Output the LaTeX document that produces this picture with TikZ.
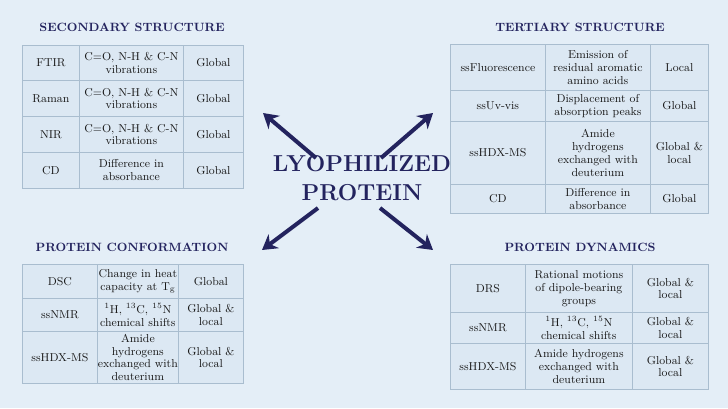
\documentclass[tikz,border=0pt]{standalone}
\usepackage{tikz}
\usetikzlibrary{arrows.meta,positioning}
\definecolor{navy}{HTML}{23235E}
\definecolor{bgblue}{HTML}{E4EEF7}
\definecolor{cellblue}{HTML}{DCE8F3}
\definecolor{rule}{HTML}{A9BDCF}
\tikzset{
  cell/.style={draw=rule,fill=cellblue,line width=0.6pt,inner sep=1pt,align=center},
  celltext/.style={align=center,font=\fontsize{8.6}{9.6}\selectfont,text=black!90},
  title/.style={font=\bfseries\fontsize{9}{11}\selectfont,text=navy},
  bigarrow/.style={-{Stealth[length=11pt,width=13pt]},line width=3pt,draw=navy}
}
% one table row: name, top y, bottom y, x0,x1,x2, three texts, x3
\newcommand{\tabrow}[9]{
  \node[cell,minimum width={(#5-#4)*0.75pt},minimum height={(#3-#2)*0.75pt},anchor=north west] (#1a) at (#4,#2) {};
  \node[cell,minimum width={(#6-#5)*0.75pt},minimum height={(#3-#2)*0.75pt},anchor=north west] (#1b) at (#5,#2) {};
  \node[cell,minimum width={(#9-#6)*0.75pt},minimum height={(#3-#2)*0.75pt},anchor=north west] (#1c) at (#6,#2) {};
  \node[celltext] at (#1a) {#7};
  \node[celltext] at (#1b) {#8};
}
\newcommand{\rowtext}[2]{\node[celltext] at (#1) {#2};}
\begin{document}
\begin{tikzpicture}[x=0.75pt,y=-0.75pt]
\useasboundingbox[fill=bgblue] (0,0) rectangle (728,408);

% secondary structure
\node[title] (secT) at (132,27) {SECONDARY STRUCTURE};
\tabrow{s1}{45}{80}{22}{79}{183}{FTIR}{C=O, N-H \& C-N\\vibrations}{243}\rowtext{s1c}{Global}
\tabrow{s2}{80}{116}{22}{79}{183}{Raman}{C=O, N-H \& C-N\\vibrations}{243}\rowtext{s2c}{Global}
\tabrow{s3}{116}{152}{22}{79}{183}{NIR}{C=O, N-H \& C-N\\vibrations}{243}\rowtext{s3c}{Global}
\tabrow{s4}{152}{188}{22}{79}{183}{CD}{Difference in\\absorbance}{243}\rowtext{s4c}{Global}

% tertiary structure
\node[title] (terT) at (580,27) {TERTIARY STRUCTURE};
\tabrow{t1}{44}{90}{450}{545}{650}{ssFluorescence}{Emission of\\residual aromatic\\amino acids}{708}\rowtext{t1c}{Local}
\tabrow{t2}{90}{121}{450}{545}{650}{ssUv-vis}{Displacement of\\absorption peaks}{708}\rowtext{t2c}{Global}
\tabrow{t3}{121}{184}{450}{545}{650}{ssHDX-MS}{Amide\\hydrogens\\exchanged with\\deuterium}{708}\rowtext{t3c}{Global \&\\local}
\tabrow{t4}{184}{213}{450}{545}{650}{CD}{Difference in\\absorbance}{708}\rowtext{t4c}{Global}

% protein conformation
\node[title] (conT) at (132,247) {PROTEIN CONFORMATION};
\tabrow{c1}{264}{298}{22}{97}{178}{DSC}{Change in heat\\capacity at T$_{\mathrm g}$}{243}\rowtext{c1c}{Global}
\tabrow{c2}{298}{331}{22}{97}{178}{ssNMR}{$^{1}$H, $^{13}$C, $^{15}$N\\chemical shifts}{243}\rowtext{c2c}{Global \&\\local}
\tabrow{c3}{331}{383}{22}{97}{178}{ssHDX-MS}{Amide\\hydrogens\\exchanged with\\deuterium}{243}\rowtext{c3c}{Global \&\\local}

% protein dynamics
\node[title] (dynT) at (580,247) {PROTEIN DYNAMICS};
\tabrow{d1}{264}{312}{450}{525}{632}{DRS}{Rational motions\\of dipole-bearing\\groups}{708}\rowtext{d1c}{Global \&\\local}
\tabrow{d2}{312}{343}{450}{525}{632}{ssNMR}{$^{1}$H, $^{13}$C, $^{15}$N\\chemical shifts}{708}\rowtext{d2c}{Global \&\\local}
\tabrow{d3}{343}{389}{450}{525}{632}{ssHDX-MS}{Amide hydrogens\\exchanged with\\deuterium}{708}\rowtext{d3c}{Global \&\\local}

% centre
\node[font=\bfseries\LARGE,text=navy,align=center,inner sep=0pt] (lyo) at (362,178) {LYOPHILIZED\\PROTEIN};
\coordinate (nwA) at (316,158);
\coordinate (neA) at (381,158);
\coordinate (swA) at (318,208);
\coordinate (seA) at (380,208);
\coordinate (nw) at (263,113);
\coordinate (ne) at (433,113);
\coordinate (sw) at (262,250);
\coordinate (se) at (433,250);
\draw[bigarrow] (nwA) -- (nw);
\draw[bigarrow] (neA) -- (ne);
\draw[bigarrow] (swA) -- (sw);
\draw[bigarrow] (seA) -- (se);
\end{tikzpicture}
\end{document}
